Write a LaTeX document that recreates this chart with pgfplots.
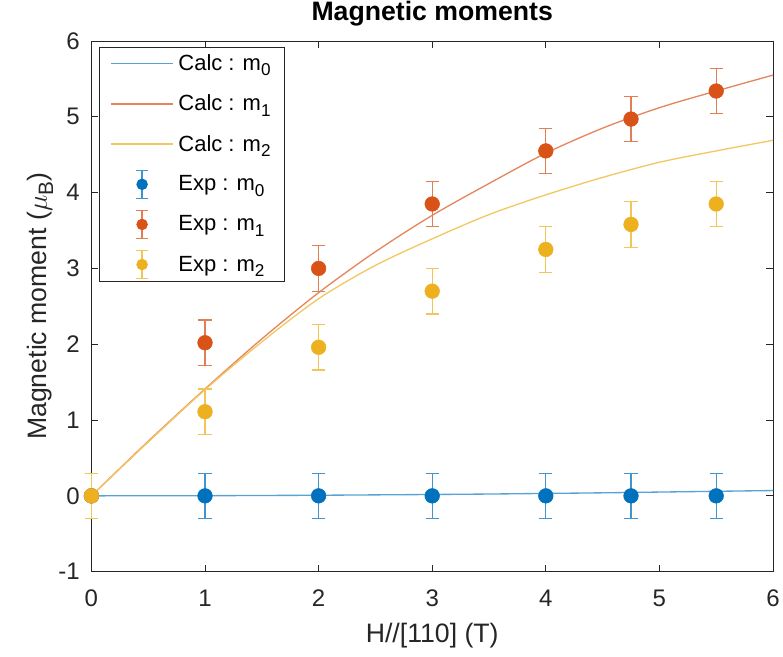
\documentclass[border=0pt]{standalone}
\usepackage{fontspec}
\setmainfont{Liberation Sans}
\usepackage{graphicx}
\usepackage{pgfplots}
\pgfplotsset{compat=1.18}

\definecolor{mblue}{rgb}{0,0.447,0.741}
\definecolor{mred}{rgb}{0.85,0.325,0.098}
\definecolor{myel}{rgb}{0.929,0.694,0.125}
\definecolor{axcol}{rgb}{0.15,0.15,0.15}

% calculated curves
\pgfplotstableread{
x    m0     m1    m2
0    0      0     0
0.5  0.001  0.72  0.71
1    0.002  1.41  1.40
1.5  0.005  2.07  2.03
2    0.008  2.68  2.60
2.5  0.013  3.22  3.04
3    0.018  3.70  3.39
3.5  0.024  4.12  3.71
4    0.032  4.52  3.97
4.5  0.040  4.85  4.20
5    0.050  5.12  4.40
5.5  0.060  5.34  4.55
6    0.070  5.55  4.69
}\calc

% measured values
\pgfplotstableread{
x     m0   m1    m2    e
0     0    0     0     0.3
1     0    2.02  1.11  0.3
2     0    3.00  1.96  0.3
3     0    3.85  2.70  0.3
4     0    4.55  3.25  0.3
4.75  0    4.97  3.58  0.3
5.5   0    5.34  3.85  0.3
}\expdata

% MATLAB-like subscript: large and low
\newcommand{\sub}[1]{\raisebox{-0.45ex}{\scalebox{0.78}{#1}}}

\newcommand{\calcimg}[1]{%
  \draw[#1, line width=1pt] (0pt,0pt) -- (46.5pt,0pt);
  \path (0pt,-10.5pt) (48pt,10.5pt);}
\newcommand{\expimg}[2]{%
  \draw[#1, line width=0.9pt] (23.25pt,-10.5pt) -- (23.25pt,10.5pt)
     (18.5pt,-10.5pt) -- (28pt,-10.5pt) (18.5pt,10.5pt) -- (28pt,10.5pt);
  \fill[#2] (23.25pt,0pt) circle (4pt);
  \path (0pt,-10.5pt) (48pt,10.5pt);}

\begin{document}
\begin{tikzpicture}
\begin{axis}[
  scale only axis,
  width=511.5pt, height=398.25pt,
  xmin=0, xmax=6, ymin=-1, ymax=6,
  xtick={0,...,6}, xticklabels={0,1,2,3,4,5,6},
  ytick={-1,...,6}, yticklabels={-1,0,1,2,3,4,5,6},
  tick align=inside,
  major tick length=5pt,
  axis line style={axcol, line width=0.6pt},
  every tick/.style={axcol, line width=0.6pt},
  ticklabel style={font=\fontsize{18}{20}\selectfont, text=axcol},
  xticklabel style={inner sep=0pt, anchor=north, yshift=-13.5pt},
  yticklabel style={inner sep=0pt, anchor=east, xshift=-8.6pt},
  title={\bfseries Magnetic moments},
  title style={font=\fontsize{20}{22}\selectfont, at={(axis description cs:0.5,1.0226)}, anchor=base, inner sep=0pt},
  xlabel={H//[110] (T)},
  xlabel style={font=\fontsize{20}{22}\selectfont, text=axcol, at={(axis description cs:0.5,-0.134)}, anchor=base, inner sep=0pt},
  ylabel={Magnetic moment (\(\mu\)\sub{B})},
  ylabel style={font=\fontsize{20}{22}\selectfont, text=axcol, at={(axis description cs:-0.0653,0.5)}, anchor=base, inner sep=0pt},
  clip=false,
  legend cell align=left,
  legend style={at={(axis description cs:0.0117,0.9894)}, anchor=north west,
    draw=axcol, line width=0.6pt, font=\fontsize{16.5}{18}\selectfont,
    inner xsep=8pt, inner ysep=1.5pt, row sep=8.2pt},
]
\addplot[mblue!65!white, line width=1pt, smooth,
  legend image code/.code={\calcimg{mblue!65!white}}] table[x=x,y=m0] {\calc};
\addlegendentry{Calc : m\sub{0}}
\addplot[mred!70!white, line width=1pt, smooth,
  legend image code/.code={\calcimg{mred!70!white}}] table[x=x,y=m1] {\calc};
\addlegendentry{Calc : m\sub{1}}
\addplot[myel!70!white, line width=1pt, smooth,
  legend image code/.code={\calcimg{myel!70!white}}] table[x=x,y=m2] {\calc};
\addlegendentry{Calc : m\sub{2}}

\addplot[only marks, mark=*, mark size=5.5pt, mark options={draw=mblue, fill=mblue},
  legend image code/.code={\expimg{mblue!75!white}{mblue}},
  error bars/.cd, y dir=both, y explicit,
  error bar style={mblue!75!white, line width=0.9pt},
  error mark options={rotate=90, mark size=5pt, mblue!75!white, line width=0.9pt}]
  table[x=x, y=m0, y error=e] {\expdata};
\addlegendentry{Exp : m\sub{0}}
\addplot[only marks, mark=*, mark size=5.5pt, mark options={draw=mred, fill=mred},
  legend image code/.code={\expimg{mred!75!white}{mred}},
  error bars/.cd, y dir=both, y explicit,
  error bar style={mred!75!white, line width=0.9pt},
  error mark options={rotate=90, mark size=5pt, mred!75!white, line width=0.9pt}]
  table[x=x, y=m1, y error=e] {\expdata};
\addlegendentry{Exp : m\sub{1}}
\addplot[only marks, mark=*, mark size=5.5pt, mark options={draw=myel, fill=myel},
  legend image code/.code={\expimg{myel!75!white}{myel}},
  error bars/.cd, y dir=both, y explicit,
  error bar style={myel!75!white, line width=0.9pt},
  error mark options={rotate=90, mark size=5pt, myel!75!white, line width=0.9pt}]
  table[x=x, y=m2, y error=e] {\expdata};
\addlegendentry{Exp : m\sub{2}}
\end{axis}
\pgfresetboundingbox
\useasboundingbox ([shift={(-68.6pt,-63.75pt)}]current axis.south west)
  rectangle ([shift={(7.5pt,30.75pt)}]current axis.north east);
\end{tikzpicture}
\end{document}
